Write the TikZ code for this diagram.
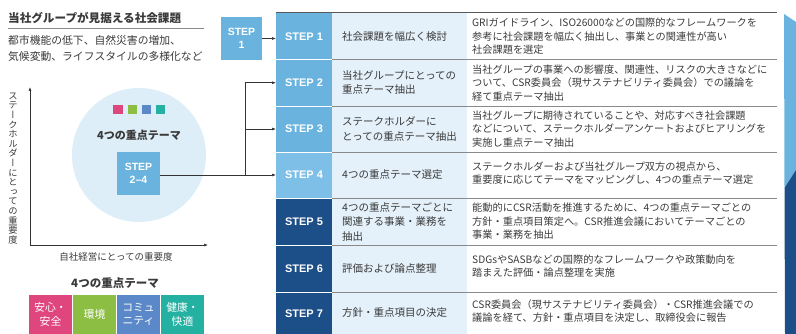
\documentclass[tikz,border=0pt]{standalone}
\usepackage{fontspec}
\usepackage{graphicx}
\setmainfont{Noto Sans CJK JP}
\newfontfamily\stepfont{Liberation Sans}
\newfontfamily\vfont{Noto Sans CJK JP}[RawFeature=+vert]
\usetikzlibrary{arrows.meta}
\definecolor{stepL}{HTML}{69B3DE}
\definecolor{stepL4}{HTML}{7DBFE6}
\definecolor{navy}{HTML}{1C4E87}
\definecolor{col2bg}{HTML}{E4F1FA}
\definecolor{circbg}{HTML}{DDEEF8}
\definecolor{cpink}{HTML}{E0467E}
\definecolor{cgreen}{HTML}{8CBE43}
\definecolor{cblue}{HTML}{5A88C8}
\definecolor{cteal}{HTML}{24B1A2}
\definecolor{txt}{HTML}{3A3A3A}
\definecolor{rule}{HTML}{8A8A8A}
\tikzset{
  stepfontstyle/.style={font=\stepfont\bfseries\fontsize{11}{13}\selectfont, text=white},
  lightcell/.style={stepfontstyle, fill=stepL, inner sep=0, outer sep=0, minimum width=56pt},
  darkcell/.style={stepfontstyle, fill=navy, inner sep=0, outer sep=0, minimum width=56pt},
  stepbox/.style={font=\stepfont\bfseries\fontsize{10.5}{12.5}\selectfont, text=white, fill=stepL, inner sep=0, outer sep=0, align=center},
  colb/.style={anchor=west, align=left, inner sep=0, text=txt, font=\fontsize{10.5}{14.5}\selectfont},
  colc/.style={anchor=west, align=left, inner sep=0, text=txt, font=\fontsize{10.2}{13.6}\selectfont},
  conn/.style={draw=black!80, line width=0.6pt},
  arr/.style={conn, -{Latex[length=4pt,width=3pt]}},
  theme/.style={text=white, inner sep=0, outer sep=0, minimum width=43pt, minimum height=39pt, align=center, font=\fontsize{10.8}{13.5}\selectfont},
  sq/.style={inner sep=0, minimum size=9.5pt}
}
\begin{document}
\begin{tikzpicture}[x=1pt,y=-1pt]
\useasboundingbox (0,0) rectangle (796,334);
% header
\node[anchor=west, inner sep=0, font=\bfseries\fontsize{11.6}{13}\selectfont, text=txt] (title) at (8,18) {当社グループが見据える社会課題};
\draw[rule, line width=1pt] (8,28.5) -- (204,28.5);
\node[anchor=north west, inner sep=0, align=left, text=txt, font=\fontsize{10.8}{16.5}\selectfont] (issues) at (8,35) {都市機能の低下、自然災害の増加、\\気候変動、ライフスタイルの多様化など};
% circle
\fill[circbg] (139,155) circle (67);
\node[sq, fill=cpink] (q1) at (118,109.5) {};
\node[sq, fill=cgreen] (q2) at (132.5,109.5) {};
\node[sq, fill=cblue] (q3) at (146.5,109.5) {};
\node[sq, fill=cteal] (q4) at (160.5,109.5) {};
\node[inner sep=0, font=\bfseries\fontsize{11}{13}\selectfont, text=txt] (ctitle) at (139,135) {4つの重点テーマ};
\node[stepbox, minimum width=43pt, minimum height=43pt] (stepB) at (138.5,173.5) {STEP\\2–4};
% axes
\coordinate (origin) at (30,245);
\coordinate (ytop) at (30,87);
\coordinate (xend) at (208,245);
\draw[arr] (origin) -- (ytop);
\draw[arr] (origin) -- (xend);
\node[inner sep=0, align=center, text=txt, font=\vfont\fontsize{9.3}{9.6}\selectfont] (ylab) at (13,168.5) {ス\\テ\\ー\\ク\\ホ\\ル\\ダ\\ー\\に\\と\\っ\\て\\の\\重\\要\\度};
\node[inner sep=0, text=txt, font=\fontsize{9.5}{11}\selectfont] (xlab) at (116,257) {自社経営にとっての重要度};
% bottom themes
\node[inner sep=0, font=\bfseries\fontsize{11.5}{13}\selectfont, text=txt] (btitle) at (115,283) {4つの重点テーマ};
\node[theme, fill=cpink, anchor=north west] (t1) at (29,295) {安心・\\安全};
\node[theme, fill=cgreen, anchor=north west] (t2) at (73,295) {環境};
\node[theme, fill=cblue, anchor=north west] (t3) at (117,295) {コミュ\\ニティ};
\node[theme, fill=cteal, anchor=north west] (t4) at (161,295) {健康・\\快適};
% table backgrounds
\fill[col2bg] (332,13) rectangle (467,336);
\node[lightcell, minimum height=46.5pt] (s1) at (304,36.25) {STEP 1};
\node[lightcell, minimum height=46.5pt] (s2) at (304,82.75) {STEP 2};
\node[lightcell, minimum height=46pt] (s3) at (304,129) {STEP 3};
\node[lightcell, fill=stepL4, minimum height=46pt] (s4) at (304,175) {STEP 4};
\node[darkcell, minimum height=47pt] (s5) at (304,221.5) {STEP 5};
\node[darkcell, minimum height=47pt] (s6) at (304,268.5) {STEP 6};
\node[darkcell, minimum height=44pt] (s7) at (304,314) {STEP 7};
% rules
\draw[black!65, line width=1pt] (276,13) -- (777,13);
\foreach \yy in {59.5,106,152,198,245,292} {
  \draw[white, line width=0.8pt] (276,\yy) -- (332,\yy);
  \draw[rule, line width=0.8pt] (332,\yy) -- (777,\yy);
}
% column 2
\node[colb] (b1) at (342,36.25) {社会課題を幅広く検討};
\node[colb] (b2) at (342,82.75) {当社グループにとっての\\重点テーマ抽出};
\node[colb] (b3) at (342,129) {ステークホルダーに\\とっての重点テーマ抽出};
\node[colb] (b4) at (342,175) {4つの重点テーマ選定};
\node[colb] (b5) at (342,221.5) {4つの重点テーマごとに\\関連する事業・業務を\\抽出};
\node[colb] (b6) at (342,268.5) {評価および論点整理};
\node[colb] (b7) at (342,313) {方針・重点項目の決定};
% column 3
\node[colc] (c1) at (472,36.25) {GRIガイドライン、ISO26000などの国際的なフレームワークを\\参考に社会課題を幅広く抽出し、事業との関連性が高い\\社会課題を選定};
\node[colc] (c2) at (472,82.75) {当社グループの事業への影響度、関連性、リスクの大きさなどに\\ついて、CSR委員会（現サステナビリティ委員会）での議論を\\経て重点テーマ抽出};
\node[colc] (c3) at (472,129) {当社グループに期待されていることや、対応すべき社会課題\\などについて、ステークホルダーアンケートおよびヒアリングを\\実施し重点テーマ抽出};
\node[colc] (c4) at (472,173) {ステークホルダーおよび当社グループ双方の視点から、\\重要度に応じてテーマをマッピングし、4つの重点テーマ選定};
\node[colc] (c5) at (472,221.5) {能動的にCSR活動を推進するために、4つの重点テーマごとの\\方針・重点項目策定へ。CSR推進会議においてテーマごとの\\事業・業務を抽出};
\node[colc] (c6) at (472,266) {SDGsやSASBなどの国際的なフレームワークや政策動向を\\踏まえた評価・論点整理を実施};
\node[colc] (c7) at (472,311) {CSR委員会（現サステナビリティ委員会）・CSR推進会議での\\議論を経て、方針・重点項目を決定し、取締役会に報告};
% right band
\fill[stepL] (784,14) -- (796,22) -- (796,170) -- (784.5,188) -- cycle;
\fill[navy] (784.5,188) -- (796,170) -- (796,334) -- (785,334) -- cycle;
% left STEP 1 box and connectors
\node[stepbox, minimum width=41pt, minimum height=43pt] (stepA) at (241.5,38.5) {STEP\\1};
\coordinate (e1) at (276,38.5);
\coordinate (j2) at (245,82.75);
\coordinate (j3) at (245,129);
\coordinate (j4) at (245,175);
\draw[arr] (stepA.east) -- (e1);
\draw[arr] (stepB.east |- j4) -- (s4.west);
\draw[conn] (j4) -- (j2);
\draw[arr] (j2) -- (s2.west);
\draw[arr] (j3) -- (s3.west);
\end{tikzpicture}
\end{document}
